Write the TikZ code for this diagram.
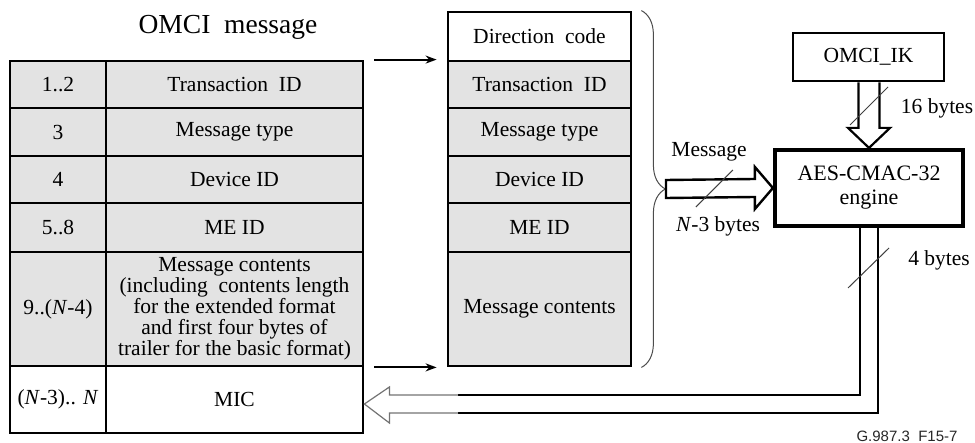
\documentclass[tikz,border=0pt]{standalone}
\usepackage{fontspec}
\setmainfont{Liberation Serif}
\newfontfamily\footfont{Liberation Sans}
\usetikzlibrary{arrows.meta,decorations.pathreplacing,calc}
\begin{document}
\begin{tikzpicture}[x=1pt,y=-1pt,
  txt/.style={font=\fontsize{21.5}{21}\selectfont},
  cell/.style={draw, line width=2.8pt, inner sep=0pt, align=center, txt},
  gcell/.style={cell, fill=gray!22},
  feed/.style={line width=2pt, -{Stealth[length=11pt,width=8pt]}},
  hollow/.style={draw, line width=2.4pt, line join=miter},
  slash/.style={draw=black!75, line width=1pt},
  bracestyle/.style={draw=black!70, line width=1pt, decorate, decoration={brace, amplitude=24pt, aspect=0.5}}]
\useasboundingbox (0,0) rectangle (975,443);

% title
\node[font=\fontsize{27.5}{27}\selectfont] (title) at (228,27) {OMCI\ \ message};

% left table
\node[gcell, minimum width=96pt, minimum height=47pt] (a1) at (58,84.5) {1..2};
\node[gcell, minimum width=257pt, minimum height=47pt] (b1) at (234.5,84.5) {Transaction\ \ ID};
\node[gcell, minimum width=96pt, minimum height=48pt] (a2) at (58,132) {3};
\node[gcell, minimum width=257pt, minimum height=48pt] (b2) at (234.5,132) {Message type};
\node[gcell, minimum width=96pt, minimum height=47pt] (a3) at (58,179.5) {4};
\node[gcell, minimum width=257pt, minimum height=47pt] (b3) at (234.5,179.5) {Device ID};
\node[gcell, minimum width=96pt, minimum height=49pt] (a4) at (58,227.5) {5..8};
\node[gcell, minimum width=257pt, minimum height=49pt] (b4) at (234.5,227.5) {ME ID};
\node[gcell, minimum width=96pt, minimum height=114pt] (a5) at (58,309) {9..(\textit{N}-4)};
\node[gcell, minimum width=257pt, minimum height=114pt] (b5) at (234.5,309) {Message contents\\(including\ \ contents length\\for the extended format\\and first four bytes of\\trailer for the basic format)};
\node[cell, minimum width=96pt, minimum height=67pt] (a6) at (58,399.5) {(\textit{N}-3).. \textit{N}};
\node[cell, minimum width=257pt, minimum height=67pt] (mic) at (234.5,399.5) {MIC};

% middle table
\node[cell, minimum width=183pt, minimum height=49pt] (m0) at (539.5,36.5) {Direction\ \ code};
\node[gcell, minimum width=183pt, minimum height=47pt] (m1) at (539.5,84.5) {Transaction\ \ ID};
\node[gcell, minimum width=183pt, minimum height=48pt] (m2) at (539.5,132) {Message type};
\node[gcell, minimum width=183pt, minimum height=47pt] (m3) at (539.5,179.5) {Device ID};
\node[gcell, minimum width=183pt, minimum height=49pt] (m4) at (539.5,227.5) {ME ID};
\node[gcell, minimum width=183pt, minimum height=114pt] (m5) at (539.5,309) {Message contents};

% feed arrows
\draw[feed] ($(b1.north east)+(10,0)$) -- ($(m1.north west)+(-10,0)$);
\draw[feed] ($(b5.south east)+(10,0)$) -- ($(m5.south west)+(-10,0)$);

% brace
\draw[bracestyle] ($(m0.north east)+(9,0)$) -- ($(m5.south east)+(9,0)$);
\coordinate (bt) at (666,189);

% boxes
\node[draw, line width=2.8pt, minimum width=151pt, minimum height=48pt, txt, inner sep=0pt] (ik) at (868.5,57) {OMCI\_IK};
\node[draw, line width=4.2pt, minimum width=188pt, minimum height=76pt, align=center, inner sep=0pt,
      font=\fontsize{22}{24}\selectfont] (aes) at (869,188) {AES-CMAC-32\\engine};

% message arrow
\draw[hollow] ($(bt)+(0,-9)$) -- ($(aes.west)+(-18,-9)$) -- ($(aes.west)+(-18,-21)$) -- (aes.west)
  -- ($(aes.west)+(-18,21)$) -- ($(aes.west)+(-18,9)$) -- ($(bt)+(0,9)$) -- cycle;
\draw[slash] ($(aes.west)+(-77,19)$) -- ($(aes.west)+(-40,-18)$);
\node[txt] (lmsg) at (709,152) {Message};
\node[txt] (lmsgb) at (718,226) {\textit{N}-3 bytes};

% 16 bytes arrow
\draw[hollow, line width=2.2pt] ($(ik.south)+(-10,0)$) -- ($(aes.north)+(-10.5,-20)$) -- ($(aes.north)+(-21,-20)$) -- (aes.north)
  -- ($(aes.north)+(21,-20)$) -- ($(aes.north)+(10.5,-20)$) -- ($(ik.south)+(11,0)$);
\draw[slash] (850,125) -- (888,87);
\node[txt] (l16) at (937,108) {16 bytes};

% output arrow
\coordinate (tipo) at ($(mic.east)+(0,4.5)$);
\coordinate (gi) at (458,395);
\coordinate (go) at (458,413);
\draw[line width=2.8pt] ($(aes.south)+(-9,0)$) |- (gi);
\draw[line width=2.8pt] ($(aes.south)+(9,0)$) |- (go);
\draw[draw=black!55, line width=1.2pt, line join=miter] (gi) -- ($(tipo)+(25,-9)$) -- ($(tipo)+(25,-17)$) -- (tipo)
  -- ($(tipo)+(25,19)$) -- ($(tipo)+(25,9)$) -- (go);
\draw[slash] (848,288) -- (889,248);
\node[txt] (l4) at (939,260) {4 bytes};

% footer
\node[font=\footfont\fontsize{15}{15}\selectfont, text=black!85] (foot) at (907,436) {G.987.3\ \ F15-7};
\end{tikzpicture}
\end{document}
